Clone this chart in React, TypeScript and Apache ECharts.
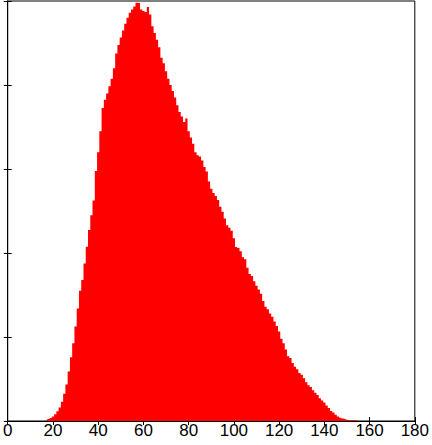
import React, { useEffect, useRef } from "react";
import * as echarts from "echarts";

const binCenters: number[] = [
  17, 18, 19, 20, 21, 22, 23, 24, 25, 26, 27, 28, 29, 30, 31, 32, 33, 34, 35, 36,
  37, 38, 39, 40, 41, 42, 43, 44, 45, 46, 47, 48, 49, 50, 51, 52, 53, 54, 55, 56,
  57, 58, 59, 60, 61, 62, 63, 64, 65, 66, 67, 68, 69, 70, 71, 72, 73, 74, 75, 76,
  77, 78, 79, 80, 81, 82, 83, 84, 85, 86, 87, 88, 89, 90, 91, 92, 93, 94, 95, 96,
  97, 98, 99, 100, 101, 102, 103, 104, 105, 106, 107, 108, 109, 110, 111, 112, 113, 114, 115, 116,
  117, 118, 119, 120, 121, 122, 123, 124, 125, 126, 127, 128, 129, 130, 131, 132, 133, 134, 135, 136,
  137, 138, 139, 140, 141, 142, 143, 144, 145, 146, 147, 148, 149, 150, 151, 152, 153, 154, 155,
];

const counts: number[] = [
  0.2, 0.5, 0.7, 1.1, 1.6, 2.3, 3.2, 4.6, 6.5, 8.7, 11.8, 15.2, 18.5, 22.5, 26.8, 31, 33.6, 37.5, 41.5, 45.5,
  49, 52.5, 59.5, 64, 69, 74.5, 76.5, 78, 79.7, 81.5, 84, 87.5, 89.5, 91.3, 93, 94.6, 96, 97.2, 98, 98.7,
  99.6, 99.5, 98, 97.6, 97.4, 98.6, 96.8, 94, 92.4, 90.8, 89, 86.5, 85.2, 83.3, 81.5, 80, 78.6, 77, 75.2, 73.6,
  72.5, 71.2, 72, 69, 67.5, 66, 64, 63.3, 63, 62, 60.5, 59.4, 57, 55.3, 54.3, 53.6, 52.6, 51, 49.8, 48.2,
  46.6, 46, 45.3, 43.5, 41.4, 41.2, 40.4, 39, 38.5, 36.5, 35, 34.5, 33.3, 32.2, 31.3, 30.3, 28.6, 27.2, 26.6, 25.6,
  24.8, 23.7, 22.6, 21.3, 19.6, 18.5, 17, 15.4, 15, 13.8, 12.9, 12.3, 11.4, 11, 10.2, 9.2, 8.5, 8.1, 7.3, 6.7,
  6.2, 5.4, 4.9, 4.4, 3.7, 3.1, 2.4, 2, 1.5, 1.1, 0.8, 0.6, 0.5, 0.3, 0.2, 0.2, 0.2, 0.2, 0,
];

const xMin = 0;
const xMax = 180;
const xStep = 20;
const yMin = 0;
const yMax = 100;
const yStep = 20;

export default function App() {
  const ref = useRef<HTMLDivElement>(null);
  useEffect(() => {
    if (!ref.current) return;
    const chart = echarts.init(ref.current, undefined, { renderer: "svg" });
    const data = binCenters.map((x, i) => [x, counts[i]]);
    const tickStyle = { show: true, inside: true, length: 4, lineStyle: { color: "#000", width: 1 } };
    chart.setOption({
      animation: false,
      backgroundColor: "#fff",
      grid: {
        left: 3,
        right: 13,
        top: 1,
        bottom: 24,
        show: true,
        borderColor: "#000",
        borderWidth: 1,
        backgroundColor: "transparent",
      },
      xAxis: [
        {
          type: "value",
          min: xMin,
          max: xMax,
          interval: xStep,
          position: "bottom",
          axisLine: { show: true, lineStyle: { color: "#000" } },
          axisTick: tickStyle,
          splitLine: { show: false },
          axisLabel: {
            show: true,
            color: "#000",
            fontFamily: "Liberation Sans, Arial, sans-serif",
            fontSize: 17,
            margin: 1,
          },
        },
        {
          type: "value",
          min: xMin,
          max: xMax,
          interval: xStep,
          position: "top",
          axisLine: { show: true, lineStyle: { color: "#000" } },
          axisTick: tickStyle,
          splitLine: { show: false },
          axisLabel: { show: false },
        },
      ],
      yAxis: [
        {
          type: "value",
          min: yMin,
          max: yMax,
          interval: yStep,
          position: "left",
          axisLine: { show: true, lineStyle: { color: "#000" } },
          axisTick: tickStyle,
          splitLine: { show: false },
          axisLabel: { show: false },
        },
        {
          type: "value",
          min: yMin,
          max: yMax,
          interval: yStep,
          position: "right",
          axisLine: { show: true, lineStyle: { color: "#000" } },
          axisTick: tickStyle,
          splitLine: { show: false },
          axisLabel: { show: false },
        },
      ],
      series: [
        {
          type: "line",
          data,
          step: "middle",
          showSymbol: false,
          symbol: "none",
          lineStyle: { width: 0, color: "#ff0000" },
          areaStyle: { color: "#ff0000", opacity: 1 },
          itemStyle: { color: "#ff0000" },
          z: 1,
        },
      ],
    });
    return () => chart.dispose();
  }, []);
  return (
    <div
      ref={ref}
      style={{ position: "absolute", left: 0, top: 0, width: 432, height: 445 }}
    />
  );
}
